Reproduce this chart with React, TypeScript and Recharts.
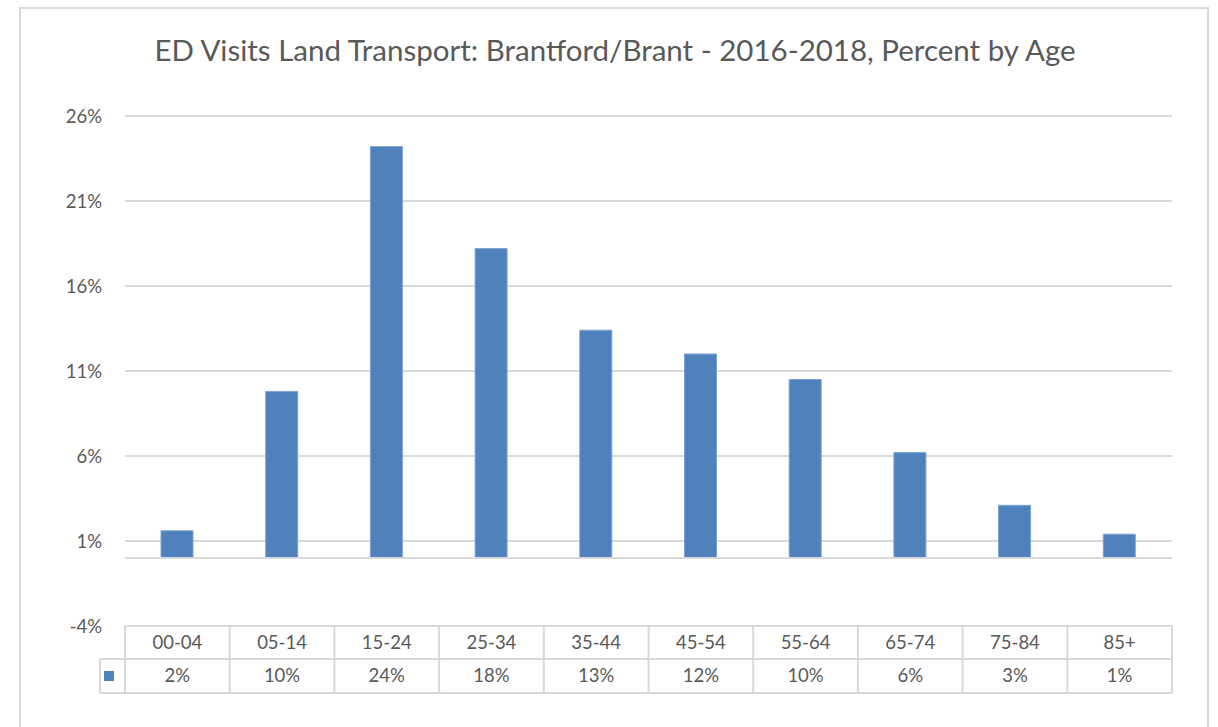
import { BarChart, Bar, XAxis, YAxis, CartesianGrid, ReferenceLine } from "recharts";

const AGE_GROUPS = ["00-04", "05-14", "15-24", "25-34", "35-44", "45-54", "55-64", "65-74", "75-84", "85+"];
const PERCENTS = [1.6, 9.8, 24.2, 18.2, 13.4, 12.0, 10.5, 6.2, 3.1, 1.4];
const TABLE_LABELS = ["2%", "10%", "24%", "18%", "13%", "12%", "10%", "6%", "3%", "1%"];
const Y_TICKS = [-4, 1, 6, 11, 16, 21, 26];

const W = 1218;
const H = 727;
const PLOT_LEFT = 125;
const PLOT_RIGHT = 1172;
const BAND = (PLOT_RIGHT - PLOT_LEFT) / AGE_GROUPS.length;
const ROW1 = 33;
const ROW2 = 34;

const BLUE = "#4f81bd";
const GRID = "#d9d9d9";
const TEXT = "#595959";
const FONT = "Lato, 'Open Sans', sans-serif";

const data = AGE_GROUPS.map((g, i) => ({ age: g, pct: PERCENTS[i], label: TABLE_LABELS[i] }));

function TableTick(props: any) {
  const { x, y, index, payload } = props;
  const left = x - BAND / 2;
  const right = x + BAND / 2;
  const top = y;
  const mid = y + ROW1;
  const bot = y + ROW1 + ROW2;
  const last = index === AGE_GROUPS.length - 1;
  return (
    <g>
      <line x1={left} x2={right} y1={top} y2={top} stroke={GRID} strokeWidth={2} />
      <line x1={left} x2={right} y1={mid} y2={mid} stroke={GRID} strokeWidth={2} />
      <line x1={left} x2={right} y1={bot} y2={bot} stroke={GRID} strokeWidth={2} />
      <line x1={left} x2={left} y1={top} y2={bot} stroke={GRID} strokeWidth={2} />
      {last && <line x1={right} x2={right} y1={top} y2={bot} stroke={GRID} strokeWidth={2} />}
      {index === 0 && (
        <g>
          <line x1={left - 25} x2={left} y1={mid} y2={mid} stroke={GRID} strokeWidth={2} />
          <line x1={left - 25} x2={left} y1={bot} y2={bot} stroke={GRID} strokeWidth={2} />
          <line x1={left - 25} x2={left - 25} y1={mid} y2={bot} stroke={GRID} strokeWidth={2} />
          <rect x={left - 21} y={mid + 12} width={10} height={10} fill={BLUE} />
        </g>
      )}
      <text x={x} y={top + ROW1 / 2} dy="0.35em" textAnchor="middle" fontSize={18.5} fill={TEXT} fontFamily={FONT}>
        {payload.value}
      </text>
      <text x={x} y={mid + ROW2 / 2} dy="0.35em" textAnchor="middle" fontSize={18.5} fill={TEXT} fontFamily={FONT}>
        {TABLE_LABELS[index]}
      </text>
    </g>
  );
}

export default function App() {
  return (
    <div style={{ position: "absolute", left: 0, top: 0, width: W, height: H, background: "#fff", overflow: "hidden" }}>
      <div
        style={{
          position: "absolute", left: 19, top: 7, width: 1190, height: 740,
          border: `2px solid ${GRID}`, boxSizing: "border-box",
        }}
      />
      <div
        style={{
          position: "absolute", left: 0, top: 32, width: 1230, textAlign: "center",
          fontFamily: FONT, fontSize: 29.5, color: TEXT, whiteSpace: "nowrap",
        }}
      >
        ED Visits Land Transport:  Brantford/Brant - 2016-2018, Percent by Age
      </div>
      <div style={{ position: "absolute", left: 0, top: 0 }}>
        <BarChart width={W} height={H} data={data} margin={{ top: 116, right: W - PLOT_RIGHT, bottom: 0, left: 0 }}>
          <CartesianGrid vertical={false} stroke={GRID} strokeWidth={2} />
          <YAxis
            domain={[-4, 26]}
            ticks={Y_TICKS}
            width={PLOT_LEFT}
            axisLine={false}
            tickLine={false}
            tickMargin={17}
            tickFormatter={(v: number) => `${v}%`}
            tick={{ fontSize: 18.5, fill: TEXT, fontFamily: FONT }}
          />
          <XAxis
            dataKey="age"
            height={H - 626}
            axisLine={false}
            tickLine={false}
            tickSize={0}
            tickMargin={0}
            interval={0}
            tick={<TableTick />}
          />
          <ReferenceLine y={0} stroke={GRID} strokeWidth={2} />
          <Bar dataKey="pct" fill={BLUE} stroke="#7ea3d1" strokeWidth={1} barSize={32} isAnimationActive={false} />
        </BarChart>
      </div>
    </div>
  );
}
